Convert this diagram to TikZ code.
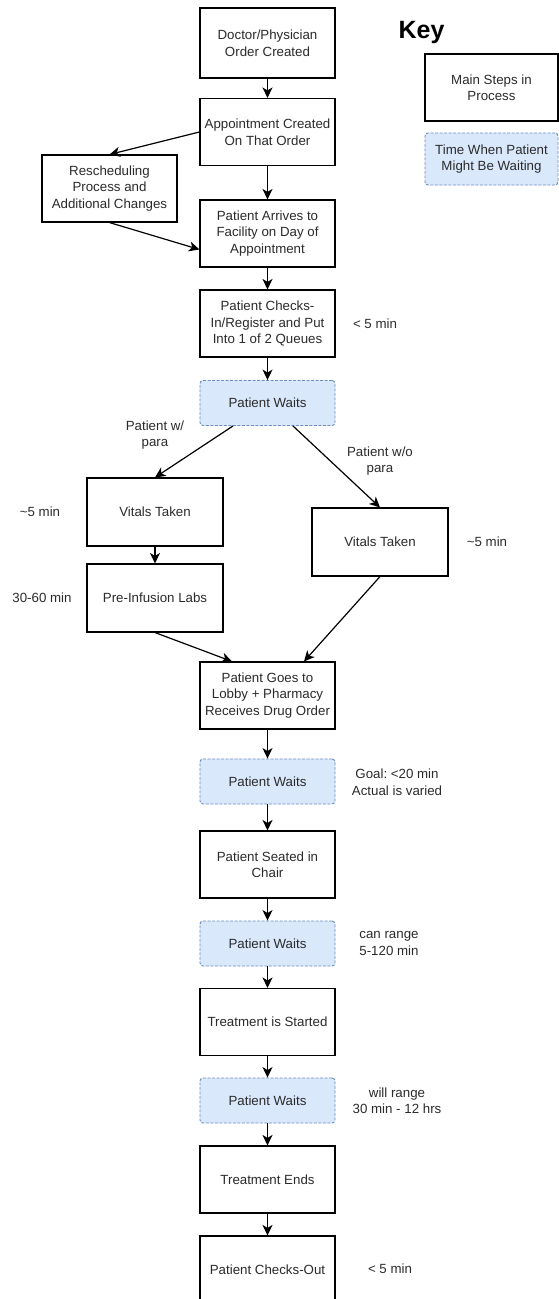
\documentclass[tikz,border=0pt]{standalone}
\usepackage{fontspec}
\setmainfont{Liberation Sans}
\frenchspacing
\usetikzlibrary{arrows.meta,positioning}
\definecolor{waitfill}{HTML}{DAE8FC}
\definecolor{waitline}{HTML}{6C8EBF}
\definecolor{inkgray}{HTML}{2B2B2B}

\begin{document}
\begin{tikzpicture}[x=1pt, y=-1pt,
  stepbox/.style={rectangle, draw=black, line width=1.1pt, fill=white, minimum width=135pt, minimum height=67pt, align=center, inner sep=2pt, text=inkgray, font=\fontsize{13.3}{16.5}\selectfont},
  waitbox/.style={stepbox, draw=waitline, fill=waitfill, line width=0.9pt, dash pattern=on 3pt off 1.5pt, rounded corners=3pt, minimum height=45pt},
  note/.style={align=center, inner sep=1pt, text=inkgray, font=\fontsize{13.3}{16.5}\selectfont},
  arr/.style={-{Stealth[length=10.5pt, width=10pt, inset=3pt]}, line width=1.2pt, black}
]
  \useasboundingbox (0,0) rectangle (559,1299);

  % Key
  \node[font=\fontsize{25}{30}\selectfont\bfseries] (keytitle) at (421.5,32) {Key};
  \node[stepbox, minimum width=133pt] (keymain) at (491.5,87.5) {Main Steps in\\Process};
  \node[waitbox, minimum width=133pt, minimum height=52pt] (keywait) at (491.5,159) {Time When Patient\\Might Be Waiting};

  % Main column
  \node[stepbox, minimum height=70pt] (doc) at (267.5,43) {Doctor/Physician\\Order Created};
  \node[stepbox] (appt) at (267.5,132) {Appointment Created\\On That Order};
  \node[stepbox] (resched) at (109.5,188.5) {Rescheduling\\Process and\\Additional Changes};
  \node[stepbox] (arrive) at (267.5,233.5) {Patient Arrives to\\Facility on Day of\\Appointment};
  \node[stepbox] (checkin) at (267.5,323.5) {Patient Checks-\\In/Register and Put\\Into 1 of 2 Queues};
  \node[waitbox] (wait1) at (267.5,403) {Patient Waits};

  % Two queues
  \node[stepbox, minimum width=136pt, minimum height=68pt] (vitalsL) at (155,512) {Vitals Taken};
  \node[stepbox, minimum width=136pt, minimum height=68pt] (labs) at (155,598) {Pre-Infusion Labs};
  \node[stepbox, minimum width=136pt, minimum height=68pt] (vitalsR) at (380,542) {Vitals Taken};

  \node[stepbox] (lobby) at (267.5,695.5) {Patient Goes to\\Lobby + Pharmacy\\Receives Drug Order};
  \node[waitbox] (wait2) at (267.5,781.5) {Patient Waits};
  \node[stepbox] (seated) at (267.5,864.5) {Patient Seated in\\Chair};
  \node[waitbox] (wait3) at (267.5,943.5) {Patient Waits};
  \node[stepbox] (started) at (267.5,1022) {Treatment is Started};
  \node[waitbox] (wait4) at (267.5,1100.5) {Patient Waits};
  \node[stepbox] (ended) at (267.5,1179.5) {Treatment Ends};
  \node[stepbox] (checkout) at (267.5,1269.5) {Patient Checks-Out};

  % Time notes
  \node[note] (tcheckin) at (375,323.5) {< 5 min};
  \node[note] (withpara) at (155,435) {Patient w/\\para};
  \node[note] (nopara) at (380,461) {Patient w/o\\para};
  \node[note] (tvitalsL) at (40,512) {\textasciitilde5 min};
  \node[note] (tlabs) at (42,598) {30-60 min};
  \node[note] (tvitalsR) at (487,542) {\textasciitilde5 min};
  \node[note] (twait2) at (397,782) {Goal: <20 min\\Actual is varied};
  \node[note, align=left] (twait3) at (389,943.5) {can range\\5-120 min};
  \node[note] (twait4) at (397,1100.5) {will range\\30 min - 12 hrs};
  \node[note] (tcheckout) at (390,1269) {< 5 min};

  % Connectors
  \draw[arr] (doc) -- (appt);
  \draw[arr] (appt.west) -- (resched.north);
  \draw[arr] (appt) -- (arrive);
  \draw[arr] (resched.south) -- ([yshift=-16pt]arrive.west);
  \draw[arr] (arrive) -- (checkin);
  \draw[arr] (checkin) -- (wait1);
  \draw[arr] ([xshift=-34.5pt]wait1.south) -- (vitalsL.north);
  \draw[arr] ([xshift=25.5pt]wait1.south) -- (vitalsR.north);
  \draw[arr] (vitalsL) -- (labs);
  \draw[arr] (labs.south) -- ([xshift=-35.5pt]lobby.north);
  \draw[arr] (vitalsR.south) -- ([xshift=36.5pt]lobby.north);
  \draw[arr] (lobby) -- (wait2);
  \draw[arr] (wait2) -- (seated);
  \draw[arr] (seated) -- (wait3);
  \draw[arr] (wait3) -- (started);
  \draw[arr] (started) -- (wait4);
  \draw[arr] (wait4) -- (ended);
  \draw[arr] (ended) -- (checkout);
\end{tikzpicture}
\end{document}
